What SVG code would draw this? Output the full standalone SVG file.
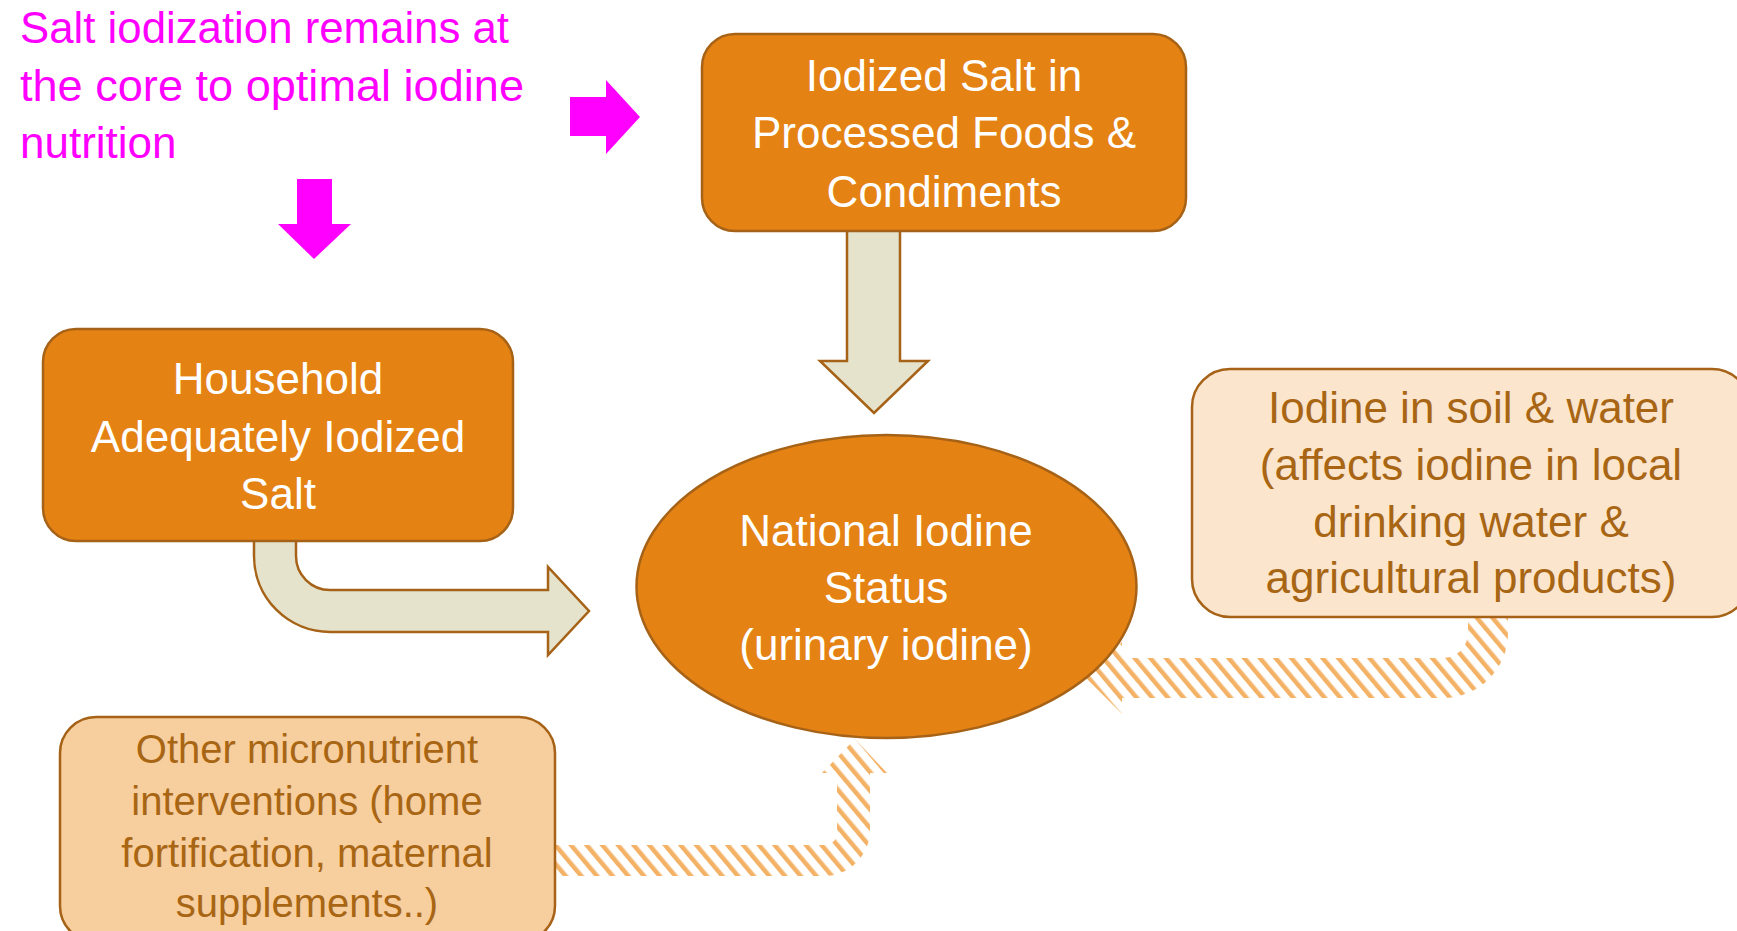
<svg xmlns="http://www.w3.org/2000/svg" width="1737" height="931" viewBox="0 0 1737 931">
<defs>
<pattern id="hatch" width="12" height="12" patternUnits="userSpaceOnUse" patternTransform="rotate(-40)">
<rect x="0" y="0" width="4.5" height="12" fill="#F4B266"/>
</pattern>
<style>
text{font-family:"Liberation Sans",Arial,sans-serif;text-anchor:middle}
.dark{fill:#E48214;stroke:#A66216;stroke-width:2.5}
.white{fill:#FFFFFF;font-size:44px}
.brown{fill:#A86614}
.big{font-size:44px}
.med{font-size:40px}
.beige{fill:#E5E3CC;stroke:#A66216;stroke-width:2.5;stroke-linejoin:miter}
.mag{fill:#FF00FF}
.hatch{fill:url(#hatch);stroke:none}
</style>
</defs>
<rect width="1737" height="931" fill="#FFFFFF"/>
<g id="connectors">
<path class="hatch" d="M540,845 L825,845 A12 12 0 0 0 837,833 L837,773 L822,773 L855,739 L887,773 L870,773 L870,830 A46 46 0 0 1 824,876 L540,876 Z"/>
<path class="hatch" d="M1468,610 L1468,633 A25 25 0 0 1 1443,658 L1122,658 L1122,642 L1086,678 L1122,714 L1122,698 L1443,698 A65 65 0 0 0 1508,633 L1508,610 Z"/>
<path class="beige" d="M847,225 L847,361 L820,361 L874,413 L928,361 L900,361 L900,225 Z"/>
<path class="beige" d="M254,535 L254,556 A76 76 0 0 0 330,632 L548,632 L548,655 L589,611 L548,567 L548,590 L330,590 A34 34 0 0 1 296,556 L296,535 Z"/>
<path class="mag" d="M570,97 L606,97 L606,80 L640,117 L606,154 L606,136 L570,136 Z"/>
<path class="mag" d="M297,179 L332,179 L332,224 L351,224 L314,259 L278,224 L297,224 Z"/>
</g>
<g id="note">
<text class="mag" style="text-anchor:start" font-size="44" x="20" y="43" textLength="489" lengthAdjust="spacingAndGlyphs">Salt iodization remains at</text>
<text class="mag" style="text-anchor:start" font-size="44" x="20" y="101" textLength="504" lengthAdjust="spacingAndGlyphs">the core to optimal iodine</text>
<text class="mag" style="text-anchor:start" font-size="44" x="20" y="158">nutrition</text>
</g>
<g id="processed">
<rect class="dark" x="702" y="34" width="484" height="197" rx="33"/>
<text class="white" x="944" y="91">Iodized Salt in</text>
<text class="white" x="944" y="148">Processed Foods &amp;</text>
<text class="white" x="944" y="207">Condiments</text>
</g>
<g id="household">
<rect class="dark" x="43" y="329" width="470" height="212" rx="33"/>
<text class="white" x="278" y="394">Household</text>
<text class="white" x="278" y="452">Adequately Iodized</text>
<text class="white" x="278" y="509">Salt</text>
</g>
<g id="national">
<ellipse class="dark" cx="886.5" cy="586.5" rx="250" ry="151.5"/>
<text class="white" x="886" y="546">National Iodine</text>
<text class="white" x="886" y="603">Status</text>
<text class="white" x="886" y="660">(urinary iodine)</text>
</g>
<g id="soil">
<rect x="1192" y="369" width="558" height="248" rx="38" fill="#FBE5CD" stroke="#A66216" stroke-width="2.5"/>
<text class="brown big" x="1471" y="423">Iodine in soil &amp; water</text>
<text class="brown big" x="1471" y="480">(affects iodine in local</text>
<text class="brown big" x="1471" y="537">drinking water &amp;</text>
<text class="brown big" x="1471" y="593">agricultural products)</text>
</g>
<g id="other">
<rect x="60" y="717" width="495" height="225" rx="36" fill="#F7CE9E" stroke="#A66216" stroke-width="2.5"/>
<text class="brown med" x="307" y="763">Other micronutrient</text>
<text class="brown med" x="307" y="815">interventions (home</text>
<text class="brown med" x="307" y="867">fortification, maternal</text>
<text class="brown med" x="307" y="917">supplements..)</text>
</g>
</svg>
